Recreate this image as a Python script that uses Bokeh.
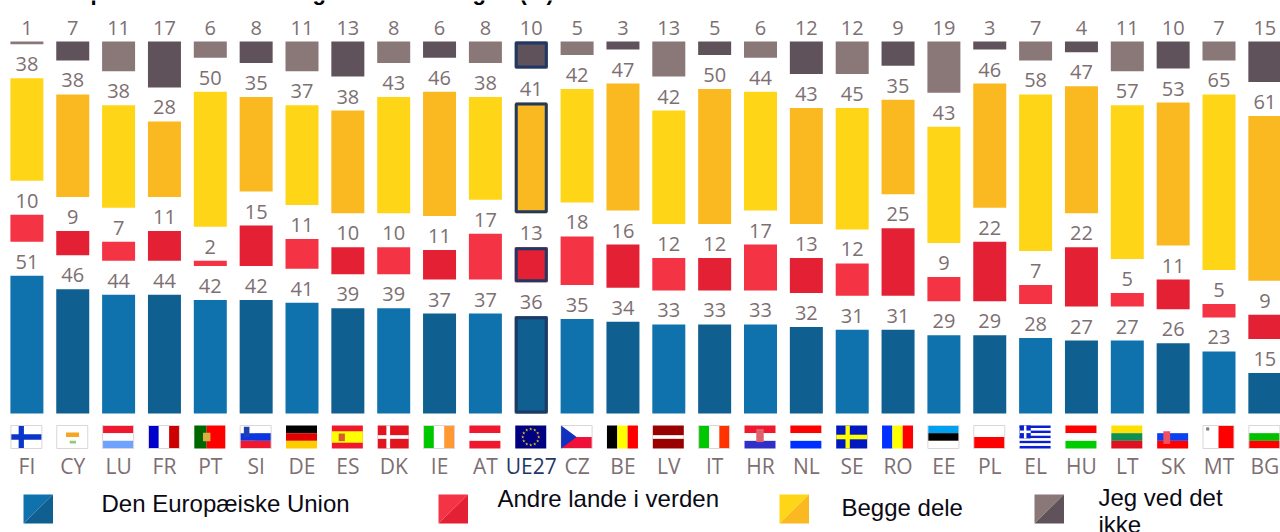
from bokeh.embed import file_html
from bokeh.resources import INLINE
from bokeh.plotting import figure
from bokeh.models import Range1d, ColumnDataSource
from bokeh.core.properties import value

countries = ["FI","CY","LU","FR","PT","SI","DE","ES","DK","IE","AT","UE27","CZ","BE","LV","IT","HR","NL","SE","RO","EE","PL","EL","HU","LT","SK","MT","BG"]
eu_values = [51,46,44,44,42,42,41,39,39,37,37,36,35,34,33,33,33,32,31,31,29,29,28,27,27,26,23,15]
other_values = [10,9,7,11,2,15,11,10,10,11,17,13,18,16,12,12,17,13,12,25,9,22,7,22,5,11,5,9]
both_values = [38,38,38,28,50,35,37,38,43,46,38,41,42,47,42,50,44,43,45,35,43,46,58,47,57,53,65,61]
dk_values = [1,7,11,17,6,8,11,13,8,6,8,10,5,3,13,5,6,12,12,9,19,3,7,4,11,10,7,15]
legend_labels = ["Den Europæiske Union","Andre lande i verden","Begge dele","Jeg ved det","ikke"]

W, H = 1280, 532
PITCH, X0, UNIT, GAP_PX = 45.85, 26.4, 2.7, 34.0
BASE = 413.0
BAR_PX = 33.0
LIGHT = ["#1072AD","#F43345","#FFD617","#8A7778"]
DARK = ["#0F5F90","#E42035","#FBB921","#60525B"]
NAVY = "#1F3864"
GREY = "#7D6F72"

p = figure(width=W, height=H, output_backend="svg", toolbar_location=None,
           x_range=Range1d(-X0/PITCH, (W-X0)/PITCH),
           y_range=Range1d((BASE-H)/UNIT, BASE/UNIT),
           min_border=0, min_border_left=0, min_border_right=0, min_border_top=0, min_border_bottom=0,
           outline_line_color=None, background_fill_color="white", border_fill_color="white")
p.margin = (0, 0, 0, 0)
p.axis.visible = False
p.grid.visible = False
p.extra_x_ranges = {"px": Range1d(0, W)}
p.extra_y_ranges = {"px": Range1d(H, 0)}
PX = dict(x_range_name="px", y_range_name="px")

gap = GAP_PX / UNIT
series = [eu_values, other_values, both_values, dk_values]
n = len(countries)
idx = list(range(n))
bw = BAR_PX / PITCH
inset_x = 3.0 / PITCH
inset_y = 1.5 / UNIT
label_lift = 14.0 / UNIT
running = [0.0] * n
for s, vals in enumerate(series):
    bottoms = [running[i] + s * gap for i in idx]
    tops = [bottoms[i] + vals[i] for i in idx]
    colors = [LIGHT[s] if i % 2 == 0 else DARK[s] for i in idx]
    src = ColumnDataSource(dict(x=idx, b=bottoms, t=tops, c=colors, v=[str(v) for v in vals],
                                ly=[t + label_lift for t in tops]))
    p.vbar(x="x", width=bw, bottom="b", top="t", source=src, fill_color="c", line_color=None)
    eu = countries.index("UE27")
    p.vbar(x=[eu], width=bw-inset_x, bottom=[bottoms[eu]+inset_y], top=[tops[eu]-inset_y],
           fill_color=DARK[s], line_color=NAVY, line_width=3)
    p.text(x="x", y="ly", text="v", source=src, text_align="center", text_baseline="middle",
           text_font=value("Open Sans"), text_font_size="20px", text_color=GREY)
    running = [running[i] + vals[i] for i in idx]

# country codes
label_colors = [NAVY if c == "UE27" else GREY for c in countries]
p.text(x=idx, y=[465.5]*n, text=countries, y_range_name="px", text_align="center", text_baseline="middle",
       text_font=value("Open Sans"), text_font_size="21px", text_color=label_colors)

# flags, drawn in unit squares: (x0, y0, x1, y1, colour)
def h(*cs):
    k = len(cs)
    return [(0, j/k, 1, (j+1)/k, c) for j, c in enumerate(cs)]
def v(*cs):
    k = len(cs)
    return [(j/k, 0, (j+1)/k, 1, c) for j, c in enumerate(cs)]
FLAGS = {
 "FI": [(0,0,1,1,"#FFFFFF"),(.25,0,.42,1,"#0A35C8"),(0,.38,1,.62,"#0A35C8")],
 "CY": [(0,0,1,1,"#FFFFFF"),(.3,.3,.72,.5,"#F5A623"),(.42,.66,.62,.78,"#8FCB7A")],
 "LU": h("#F0182E","#FFFFFF","#6FA2FF"),
 "FR": v("#0000CC","#FFFFFF","#CC0000"),
 "PT": [(0,0,.4,1,"#006600"),(.4,0,1,1,"#FF0000"),(.28,.32,.52,.68,"#D8B040")],
 "SI": h("#FFFFFF","#0A35E0","#F0182E") + [(.12,.05,.3,.5,"#2040B0")],
 "DE": h("#000000","#E00000","#FFCC00"),
 "ES": [(0,0,1,1,"#F0182E"),(0,.25,1,.75,"#FFFF00"),(.22,.35,.42,.68,"#D06030")],
 "DK": [(0,0,1,1,"#E01520"),(.28,0,.4,1,"#FFFFFF"),(0,.42,1,.58,"#FFFFFF")],
 "IE": v("#00C800","#FFFFFF","#FF9933"),
 "AT": h("#F0182E","#FFFFFF","#F0182E"),
 "UE27": [(0,0,1,1,"#000080")],
 "CZ": [(0,0,1,.5,"#FFFFFF"),(0,.5,1,1,"#F0103A")],
 "BE": v("#000000","#FFFF00","#FF0000"),
 "LV": [(0,0,1,1,"#990000"),(0,.42,1,.58,"#FFFFFF")],
 "IT": v("#00C800","#FFFFFF","#FF3300"),
 "HR": h("#F0182E","#FFFFFF","#3030C8") + [(.38,.15,.62,.72,"#E06070")],
 "NL": h("#FF0000","#FFFFFF","#0030FF"),
 "SE": [(0,0,1,1,"#0018C0"),(.3,0,.44,1,"#FFFF00"),(0,.4,1,.6,"#FFFF00")],
 "RO": v("#0030FF","#FFFF00","#FF0000"),
 "EE": h("#00A0F0","#000000","#FFFFFF"),
 "PL": [(0,.5,1,1,"#FF0000")],
 "EL": [(0,j/9,1,(j+1)/9,"#0A20D0" if j % 2 == 0 else "#FFFFFF") for j in range(9)] + [(0,0,.36,.56,"#0A20D0"),(.14,0,.22,.56,"#FFFFFF"),(0,.22,.36,.33,"#FFFFFF")],
 "HU": h("#FF0000","#FFFFFF","#00CC00"),
 "LT": h("#FFE000","#109050","#E01020"),
 "SK": h("#FFFFFF","#0A40F0","#FF0000") + [(.2,.25,.42,.8,"#F05060")],
 "MT": [(.5,0,1,1,"#FF0000"),(.1,.08,.2,.22,"#808080")],
 "BG": h("#FFFFFF","#00C000","#FF0000"),
}
FW, FH, FTOP = 31.0, 23.0, 425.0
for i, c in enumerate(countries):
    cx = X0 + PITCH * i - 0.5
    parts = FLAGS[c]
    p.quad(left=[cx-FW/2+q[0]*FW for q in parts], right=[cx-FW/2+q[2]*FW for q in parts],
           top=[FTOP+q[1]*FH for q in parts], bottom=[FTOP+q[3]*FH for q in parts],
           fill_color=[q[4] for q in parts], line_color=None, **PX)
    if c in ("FI","CY","LU","FR","SI","CZ","PL","EE","MT","IE","IT","BG"):
        p.quad(left=[cx-FW/2], right=[cx+FW/2], top=[FTOP], bottom=[FTOP+FH],
               fill_color=None, line_color="#DDD6D6", line_width=1, **PX)
    if c == "CZ":
        p.patch([cx-FW/2, cx, cx-FW/2], [FTOP, FTOP+FH/2, FTOP+FH], fill_color="#1030C0", line_color=None, **PX)
    if c == "UE27":
        p.scatter(x=[cx+8*dx for dx in (0,.5,.87,1,.87,.5,0,-.5,-.87,-1,-.87,-.5)],
                  y=[FTOP+FH/2+8*dy for dy in (-1,-.87,-.5,0,.5,.87,1,.87,.5,0,-.5,-.87)],
                  marker="star", size=3.5, fill_color="#D8C020", line_color=None, **PX)

# legend
swatches = [23, 438, 779, 1034]
for s, sx in enumerate(swatches):
    t, b, w = 494, 523, 29.5
    p.patch([sx, sx+w, sx], [t, t, b], fill_color=LIGHT[s], line_color=None, **PX)
    p.patch([sx+w, sx+w, sx], [t, b, b], fill_color=DARK[s], line_color=None, **PX)
p.text(x=[101, 497, 841, 1098, 1098], y=[503, 498, 507, 497, 524], text=legend_labels, text_baseline="middle",
       text_font=value("Liberation Sans"), text_font_size="24px", text_color="#0A0A14", **PX)

# visible remains of the cropped heading
p.text(x=[90, 312, 472, 519], y=[-8, -8, -8, -8], text=["p", "g", "g", "(%)"], text_baseline="middle",
       text_font=value("Liberation Sans"), text_font_size="22px", text_font_style="bold", text_color="#000000", **PX)

open("out.html", "w").write(file_html(p, INLINE))
